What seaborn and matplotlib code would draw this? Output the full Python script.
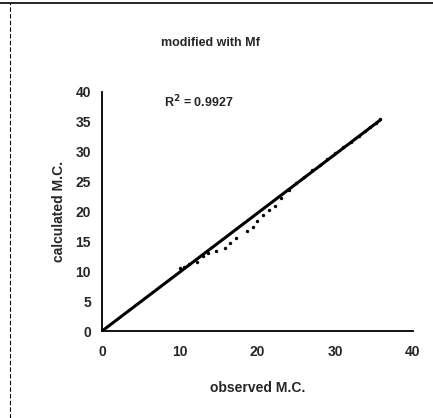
import matplotlib
matplotlib.use("Agg")
import matplotlib.pyplot as plt
import seaborn as sns
import pandas as pd
from matplotlib.lines import Line2D

# data
observed = [10.0, 10.6, 11.2, 12.2, 13.0, 13.6, 14.7, 15.8, 16.5, 17.3, 18.7, 19.4,
            20.0, 20.7, 21.5, 22.2, 23.0, 24.0, 25.0, 26.0, 27.0, 28.0, 29.0, 30.0,
            31.0, 32.0, 33.0, 33.8, 34.5, 35.2, 35.8]
calculated = [10.5, 10.8, 11.2, 11.5, 12.6, 13.0, 13.4, 13.9, 14.7, 15.5, 16.7, 17.4,
              18.4, 19.4, 20.2, 21.0, 22.2, 23.6, 24.7, 25.8, 26.9, 27.8, 28.8, 29.8,
              30.8, 31.7, 32.7, 33.5, 34.2, 34.8, 35.4]
fit_x = [0.0, 35.8]
fit_y = [0.0, 35.3]
x_ticks = [0, 10, 20, 30, 40]
y_ticks = [0, 5, 10, 15, 20, 25, 30, 35, 40]
title = "modified with Mf"
r2_text = "R$^2$ = 0.9927"

sns.set_style("white")
plt.rcParams['font.family'] = ['Liberation Sans', 'DejaVu Sans']
plt.rcParams['font.weight'] = 'bold'
plt.rcParams['mathtext.default'] = 'bf'

fig = plt.figure(figsize=(4.33, 4.18), dpi=100)
ax = fig.add_axes([0.2356, 0.208, 0.718, 0.572])

df = pd.DataFrame({"observed": observed, "calculated": calculated})
sns.scatterplot(data=df, x="observed", y="calculated", ax=ax, color="black",
                s=6, linewidth=0, zorder=3)
fit = pd.DataFrame({"x": fit_x, "y": fit_y})
sns.lineplot(data=fit, x="x", y="y", ax=ax, color="black", linewidth=2.2, zorder=2)

ax.set_xlim(0, 40)
ax.set_ylim(0, 40)
ax.set_xticks(x_ticks)
ax.set_yticks(y_ticks)
ax.set_xticklabels([str(v) for v in x_ticks], fontsize=10, fontweight='bold')
ax.set_yticklabels([str(v) for v in y_ticks], fontsize=10, fontweight='bold')
ax.tick_params(axis='both', direction='out', length=3, width=1, color='black', pad=5)
ax.tick_params(axis='x', length=0, pad=10)
for s in ['top', 'right']:
    ax.spines[s].set_visible(False)
for s in ['left', 'bottom']:
    ax.spines[s].set_color('black')
    ax.spines[s].set_linewidth(1.3)

ax.set_xlabel("observed M.C.", fontsize=10, fontweight='bold', labelpad=16)
ax.set_ylabel("calculated M.C.", fontsize=10, fontweight='bold', labelpad=7)
fig.text(0.487, 0.897, title, ha='center', va='center', fontsize=9, fontweight='bold')
ax.text(8.0, 38.4, r2_text, fontsize=9, fontweight='bold', va='center', ha='left')

# scanned page borders
fig.add_artist(Line2D([0.0, 1.0], [0.993, 0.993], transform=fig.transFigure,
                      color='black', linewidth=1.2))
fig.add_artist(Line2D([0.023, 0.023], [0.0, 0.993], transform=fig.transFigure,
                      color='black', linewidth=0.8, linestyle=(0, (4, 2))))

fig.savefig("out.png", dpi=100)
